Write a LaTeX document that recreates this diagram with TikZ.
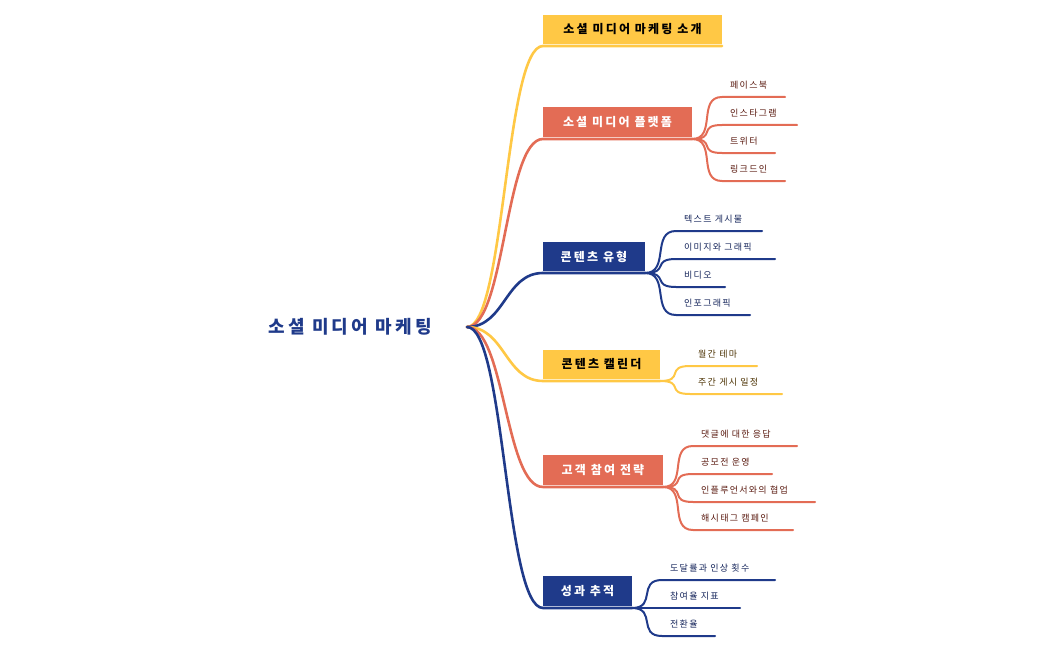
\documentclass[tikz,border=0pt]{standalone}
\usepackage{fontspec}
\newfontfamily\kr[LetterSpace=18]{Noto Sans CJK KR}
\newfontfamily\krs[LetterSpace=14]{Noto Sans CJK KR}
\definecolor{cy}{HTML}{FFC845}
\definecolor{co}{HTML}{E36C55}
\definecolor{cn}{HTML}{1F3A8A}
\definecolor{ty}{HTML}{4A3000}
\definecolor{to}{HTML}{5A1A10}
\definecolor{tn}{HTML}{14245A}
\newcommand\branch[8]{% name, color, textcolor, x1,y1,x2,y2, text
  \fill[#2] (#4,#5) rectangle (#6,#7);
  \node[box,text=#3] (#1) at ({(#4+#6)/2},{(#5+#7)/2}) {#8};
  \coordinate (#1l) at (#4,#7+2);
  \coordinate (#1r) at (#6,#7+2);
  \draw[conn,#2] (r) .. controls (505,327) and (505,#7+2) .. (#1l) -- (#1r);
}
\newcommand\subn[9]{% parent, color, textcolor, bx, by, x0, y, xend, text
  \node[subt,text=#3] (s#1#7) at (#6+8,#7-12) {#9};
  \coordinate (e#1#7) at (#8,#7);
  \draw[sconn,#2] (#1r) .. controls (#4+25,#5) and (#6-25,#7) .. (#6,#7) -- (e#1#7);
}
\begin{document}
\begin{tikzpicture}[x=1pt,y=-1pt,
  box/.style={inner sep=0pt,font=\kr\bfseries\fontsize{12}{14}\selectfont},
  subt/.style={anchor=west,inner sep=0pt,font=\krs\fontsize{9}{11}\selectfont},
  conn/.style={line width=2.6pt,line cap=round},
  sconn/.style={line width=2pt,line cap=round}]
\useasboundingbox (0,0) rectangle (1049,650);
\node[font=\kr\bfseries\fontsize{18}{20}\selectfont,text=cn] (root) at (350,327) {소셜 미디어 마케팅};
\coordinate (r) at (467,327);
\branch{b1}{cy}{black}{543}{15}{722}{44}{소셜 미디어 마케팅 소개}
\branch{b2}{co}{white}{543}{107}{692}{137}{소셜 미디어 플랫폼}
\branch{b3}{cn}{white}{543}{242}{645}{271}{콘텐츠 유형}
\branch{b4}{cy}{black}{543}{350}{660}{379}{콘텐츠 캘린더}
\branch{b5}{co}{white}{543}{455}{663}{485}{고객 참여 전략}
\branch{b6}{cn}{white}{543}{576}{632}{606}{성과 추적}
\subn{b2}{co}{to}{692}{139}{722}{97}{785}{페이스북}
\subn{b2}{co}{to}{692}{139}{722}{125}{797}{인스타그램}
\subn{b2}{co}{to}{692}{139}{722}{153}{775}{트위터}
\subn{b2}{co}{to}{692}{139}{722}{181}{785}{링크드인}
\subn{b3}{cn}{tn}{645}{273}{676}{231}{762}{텍스트 게시물}
\subn{b3}{cn}{tn}{645}{273}{676}{259}{775}{이미지와 그래픽}
\subn{b3}{cn}{tn}{645}{273}{676}{287}{725}{비디오}
\subn{b3}{cn}{tn}{645}{273}{676}{315}{750}{인포그래픽}
\subn{b4}{cy}{ty}{660}{381}{690}{366}{757}{월간 테마}
\subn{b4}{cy}{ty}{660}{381}{690}{394}{782}{주간 게시 일정}
\subn{b5}{co}{to}{663}{487}{693}{446}{797}{댓글에 대한 응답}
\subn{b5}{co}{to}{663}{487}{693}{474}{772}{공모전 운영}
\subn{b5}{co}{to}{663}{487}{693}{502}{815}{인플루언서와의 협업}
\subn{b5}{co}{to}{663}{487}{693}{530}{793}{해시태그 캠페인}
\subn{b6}{cn}{tn}{632}{608}{662}{580}{775}{도달률과 인상 횟수}
\subn{b6}{cn}{tn}{632}{608}{662}{608}{740}{참여율 지표}
\subn{b6}{cn}{tn}{632}{608}{662}{636}{715}{전환율}
\end{tikzpicture}
\end{document}
